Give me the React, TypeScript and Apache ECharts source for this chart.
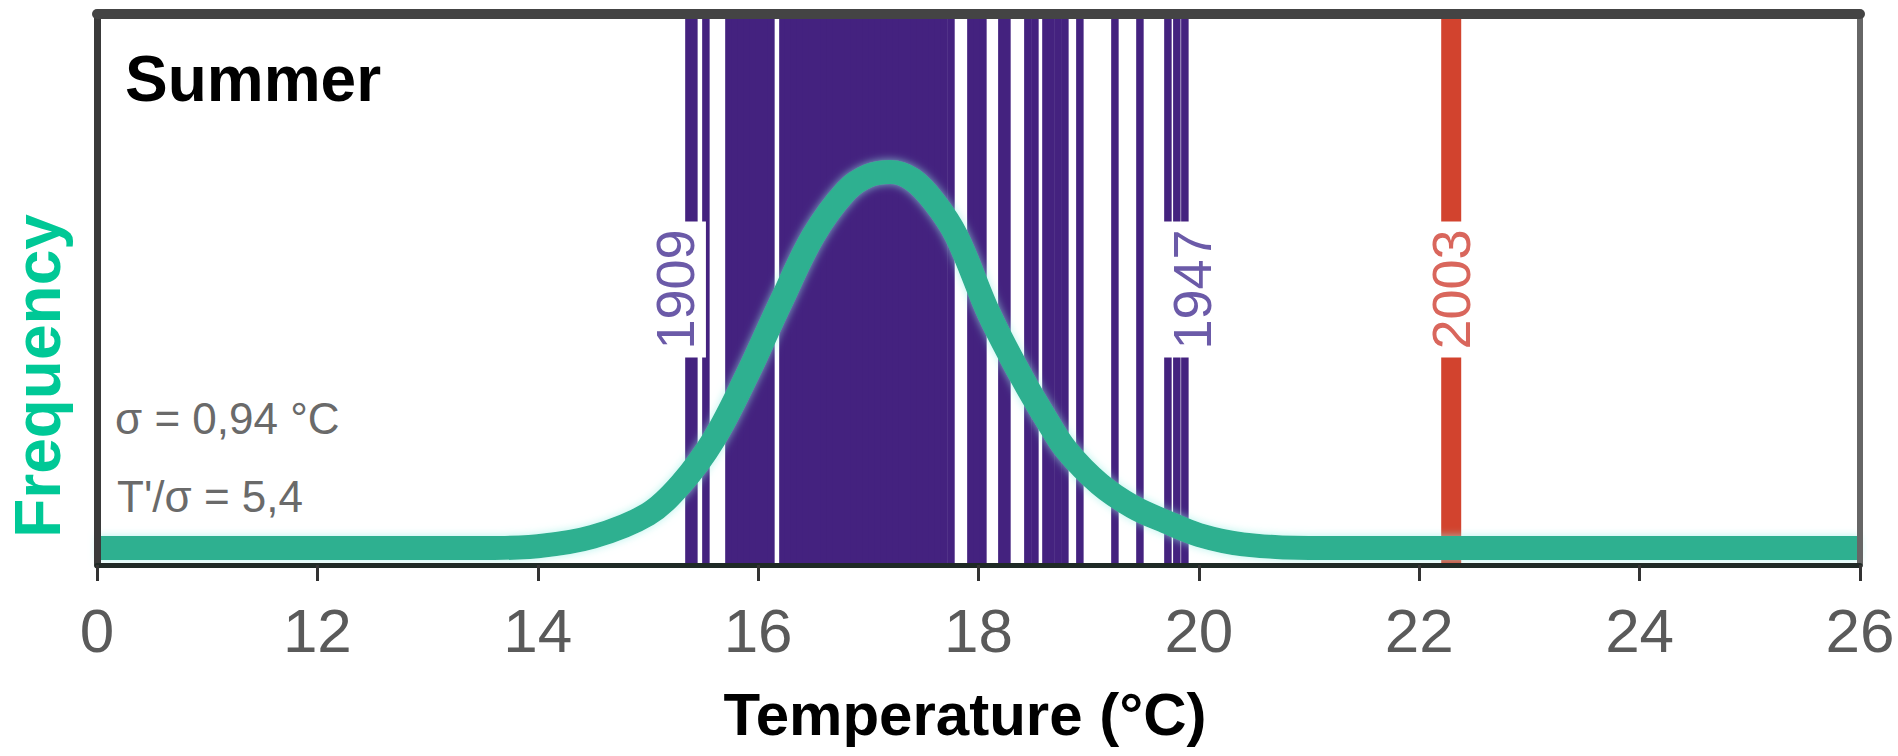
import React, { useEffect, useRef } from "react";
import * as echarts from "echarts";

// ---- data ----
const xTicks = [10, 12, 14, 16, 18, 20, 22, 24, 26];
const tickLabels = ["0", "12", "14", "16", "18", "20", "22", "24", "26"];

// summer mean temperatures (one vertical line per year)
const summerTemps = [
  15.372, 15.417, 15.526,
  15.735, 15.789, 15.844, 15.898, 15.953, 16.007, 16.062, 16.116,
  16.225,
  16.27, 16.325, 16.379, 16.434, 16.488, 16.543, 16.597, 16.652, 16.706, 16.76,
  16.815, 16.869, 16.924, 16.978, 17.033, 17.087, 17.142, 17.196, 17.25, 17.305,
  17.359, 17.414, 17.468, 17.523, 17.577, 17.632, 17.686, 17.75,
  17.931, 17.985, 18.04,
  18.212, 18.258,
  18.448, 18.512, 18.612, 18.657, 18.721, 18.784, 18.92,
  19.238, 19.465, 19.719, 19.8, 19.873,
];

const hotYearTemp = [22.29];

const yearLabelTexts = ["1909", "1947", "2003"];
const yearLabelTemps = [15.372, 19.873, 22.29];

// fitted distribution (normalised frequency)
const curveT = [10, 13.5, 14.0, 14.5, 15.0, 15.3, 15.6, 15.9, 16.2, 16.5, 16.8, 17.0, 17.2, 17.4, 17.6, 17.8, 18.1, 18.4, 18.6, 18.8, 19.1, 19.4, 19.7, 20.0, 20.4, 21, 26];
const curveF = [0, 0, 0.005, 0.03, 0.09, 0.17, 0.29, 0.46, 0.65, 0.83, 0.95, 0.99, 1.0, 0.98, 0.92, 0.83, 0.62, 0.45, 0.35, 0.26, 0.17, 0.11, 0.07, 0.035, 0.01, 0, 0];

const sigmaText = "σ = 0,94 °C";
const ratioText = "T'/σ = 5,4";

// ---- styles ----
const Y_MIN = -0.045;
const Y_MAX = 1.42;
const labelOffsets = [-14, 7, 0];
const labelColors = ["#6b5aa8", "#6b5aa8", "#d9665c"];

export default function App() {
  const ref = useRef<HTMLDivElement>(null);

  useEffect(() => {
    document.body.style.margin = "0";
    if (!ref.current) return;
    const chart = echarts.init(ref.current, null, { renderer: "svg" });

    const sans = "'Liberation Sans', Arial, sans-serif";

    chart.setOption({
      animation: false,
      backgroundColor: "#ffffff",
      grid: { left: 97, right: 38, top: 14, bottom: 191 },
      xAxis: [
        {
          type: "value",
          min: 10,
          max: 26,
          interval: 2,
          z: 10,
          axisLine: { show: true, onZero: false, lineStyle: { color: "#1f2a26", width: 5 } },
          axisTick: { show: true, length: 16, lineStyle: { color: "#333", width: 3 } },
          axisLabel: {
            margin: 34,
            fontSize: 62,
            fontFamily: sans,
            color: "#5a5a5a",
            formatter: (v: number) => {
              const i = xTicks.indexOf(Math.round(v));
              return i >= 0 ? tickLabels[i] : "";
            },
          },
          splitLine: { show: false },
        },
        {
          type: "value",
          position: "top",
          min: 10,
          max: 26,
          z: 10,
          axisLine: { show: true, onZero: false, lineStyle: { color: "#444", width: 10 } },
          axisTick: { show: false },
          axisLabel: { show: false },
          splitLine: { show: false },
        },
      ],
      yAxis: [
        {
          type: "value",
          min: Y_MIN,
          max: Y_MAX,
          z: 10,
          axisLine: { show: true, onZero: false, lineStyle: { color: "#3a3a3a", width: 7 } },
          axisTick: { show: false },
          axisLabel: { show: false },
          splitLine: { show: false },
        },
        {
          type: "value",
          position: "right",
          min: Y_MIN,
          max: Y_MAX,
          z: 10,
          axisLine: { show: true, onZero: false, lineStyle: { color: "#666", width: 6 } },
          axisTick: { show: false },
          axisLabel: { show: false },
          splitLine: { show: false },
        },
      ],
      series: [
        {
          type: "custom",
          name: "years",
          z: 1,
          silent: true,
          data: summerTemps.map((t) => [t, 0]),
          renderItem: (params: any, api: any) => {
            const t = api.value(0);
            const top = api.coord([t, Y_MAX]);
            const bot = api.coord([t, Y_MIN]);
            const w = 7.5;
            return {
              type: "rect",
              shape: { x: top[0] - w / 2, y: top[1], width: w, height: bot[1] - top[1] },
              style: { fill: "#44227f" },
            };
          },
        },
        {
          type: "custom",
          name: "2003",
          z: 2,
          silent: true,
          data: hotYearTemp.map((t) => [t, 0]),
          renderItem: (params: any, api: any) => {
            const t = api.value(0);
            const top = api.coord([t, Y_MAX]);
            const bot = api.coord([t, Y_MIN]);
            const w = 20;
            return {
              type: "rect",
              shape: { x: top[0] - w / 2, y: top[1], width: w, height: bot[1] - top[1] },
              style: { fill: "#d2432e" },
            };
          },
        },
        {
          type: "line",
          name: "distribution",
          z: 3,
          silent: true,
          showSymbol: false,
          smooth: 0.35,
          data: curveT.map((t, i) => [t, curveF[i]]),
          lineStyle: {
            color: "#2db090",
            width: 24,
            shadowColor: "rgba(150,240,230,0.7)",
            shadowBlur: 8,
          },
        },
        {
          type: "custom",
          name: "labels",
          z: 4,
          silent: true,
          data: yearLabelTemps.map((t) => [t, 0]),
          renderItem: (params: any, api: any) => {
            const i = params.dataIndex;
            const t = api.value(0);
            const p = api.coord([t, (Y_MIN + Y_MAX) / 2]);
            return {
              type: "text",
              x: p[0] + labelOffsets[i],
              y: p[1],
              rotation: Math.PI / 2,
              style: {
                text: yearLabelTexts[i],
                fill: labelColors[i],
                fontSize: 54,
                fontFamily: sans,
                align: "center",
                verticalAlign: "middle",
                backgroundColor: "#ffffff",
                padding: [6, 8, 2, 8],
              },
            };
          },
        },
      ],
      graphic: [
        {
          type: "text",
          left: 125,
          top: 47,
          style: { text: "Summer", fontSize: 64, fontWeight: "bold", fontFamily: sans, fill: "#000" },
        },
        {
          type: "text",
          x: 38,
          y: 376,
          rotation: Math.PI / 2,
          style: {
            text: "Frequency",
            fontSize: 64,
            fontWeight: "bold",
            fontFamily: sans,
            fill: "#00c896",
            align: "center",
            verticalAlign: "middle",
          },
        },
        {
          type: "text",
          x: 115,
          y: 418,
          style: { text: sigmaText, fontSize: 44, fontFamily: sans, fill: "#6a6a6a", verticalAlign: "middle" },
        },
        {
          type: "text",
          x: 117,
          y: 496,
          style: { text: ratioText, fontSize: 44, fontFamily: sans, fill: "#6a6a6a", verticalAlign: "middle" },
        },
        {
          type: "text",
          x: 965,
          y: 714,
          style: {
            text: "Temperature (°C)",
            fontSize: 60,
            fontWeight: "bold",
            fontFamily: sans,
            fill: "#000",
            align: "center",
            verticalAlign: "middle",
          },
        },
      ],
    });

    return () => chart.dispose();
  }, []);

  return <div ref={ref} style={{ width: 1898, height: 756 }} />;
}
